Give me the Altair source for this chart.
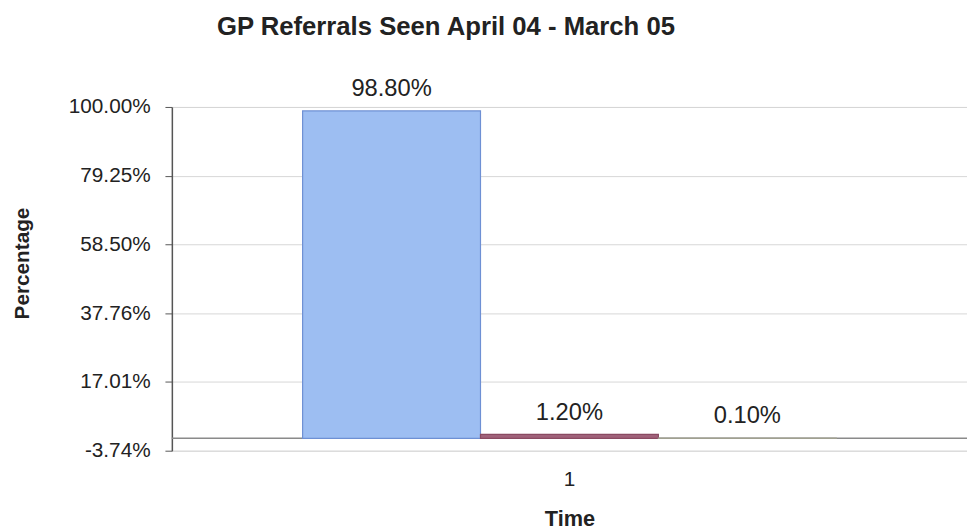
import altair as alt
import pandas as pd

# Data
series = ["Series 1", "Series 2", "Series 3"]
values = [98.80, 1.20, 0.10]
time_cat = ["1", "1", "1"]
y_ticks = [-3.74, 17.01, 37.76, 58.50, 79.25, 100.00]
colors = ["#9DBEF2", "#A0627A", "#D9D9C0"]
strokes = ["#6E90D4", "#8A4A62", "#A0A090"]

df = pd.DataFrame({"Time": time_cat, "Series": series, "Value": values})

FONT = "Liberation Sans"
x_scale = alt.Scale(paddingInner=0, paddingOuter=0.245)

x_enc = alt.X(
    "Time:N",
    title="Time",
    scale=x_scale,
    axis=alt.Axis(
        labelAngle=0, labelFontSize=21, labelColor="#222", labelFont=FONT,
        labelPadding=18, ticks=False, domain=False,
        titleFontSize=22, titleFont=FONT, titleFontWeight="bold", titleColor="#222",
        titlePadding=20,
    ),
)
xoff = alt.XOffset("Series:N", sort=series, scale=alt.Scale(paddingInner=0, paddingOuter=0))
y_scale = alt.Scale(domain=[-3.74, 100], nice=False, zero=False)

# percent labels with a plain hyphen for negatives
pct_expr = "replace(format(datum.value, '.2f'), '\u2212', '-') + '%'"

bars = alt.Chart(df).mark_bar(strokeWidth=1.2).encode(
    x=x_enc,
    xOffset=xoff,
    y=alt.Y(
        "Value:Q",
        title="Percentage",
        scale=y_scale,
        axis=alt.Axis(
            values=y_ticks,
            labelExpr=pct_expr,
            labelFontSize=21, labelFont=FONT, labelColor="#222", labelPadding=15,
            tickSize=7, tickColor="#555", domainColor="#555", domainWidth=1.5,
            gridColor="#D6D6D6", grid=True,
            titleFontSize=21, titleFont=FONT, titleFontWeight="bold", titleColor="#222",
            titleX=-141, titleY=158,
        ),
    ),
    y2=alt.datum(0),
    color=alt.Color("Series:N", sort=series, scale=alt.Scale(domain=series, range=colors), legend=None),
    stroke=alt.Stroke("Series:N", sort=series, scale=alt.Scale(domain=series, range=strokes), legend=None),
)

labels = alt.Chart(df).transform_calculate(
    label="format(datum.Value, '.2f') + '%'"
).mark_text(baseline="alphabetic", dy=-15, fontSize=24, font=FONT, color="#222").encode(
    x=alt.X("Time:N", scale=x_scale),
    xOffset=xoff,
    y=alt.Y("Value:Q", scale=y_scale),
    text="label:N",
)

zero_line = alt.Chart(pd.DataFrame({"z": [0]})).mark_rule(color="#8A8A8A", strokeWidth=1.5).encode(
    y=alt.Y("z:Q", scale=y_scale)
)

chart = alt.layer(zero_line, bars, labels).properties(
    width=805,
    height=348,
    autosize=alt.AutoSizeParams(type="none"),
    padding={"left": 174, "top": 105, "right": 0, "bottom": 77},
    title=alt.TitleParams(
        "GP Referrals Seen April 04 - March 05",
        font=FONT, fontSize=26, fontWeight="bold", color="#222",
        anchor="middle", dx=-125, offset=38,
    ),
).configure_view(stroke=None).configure(background="white")

chart.save("out.html", embed_options={"renderer": "svg", "actions": False})
